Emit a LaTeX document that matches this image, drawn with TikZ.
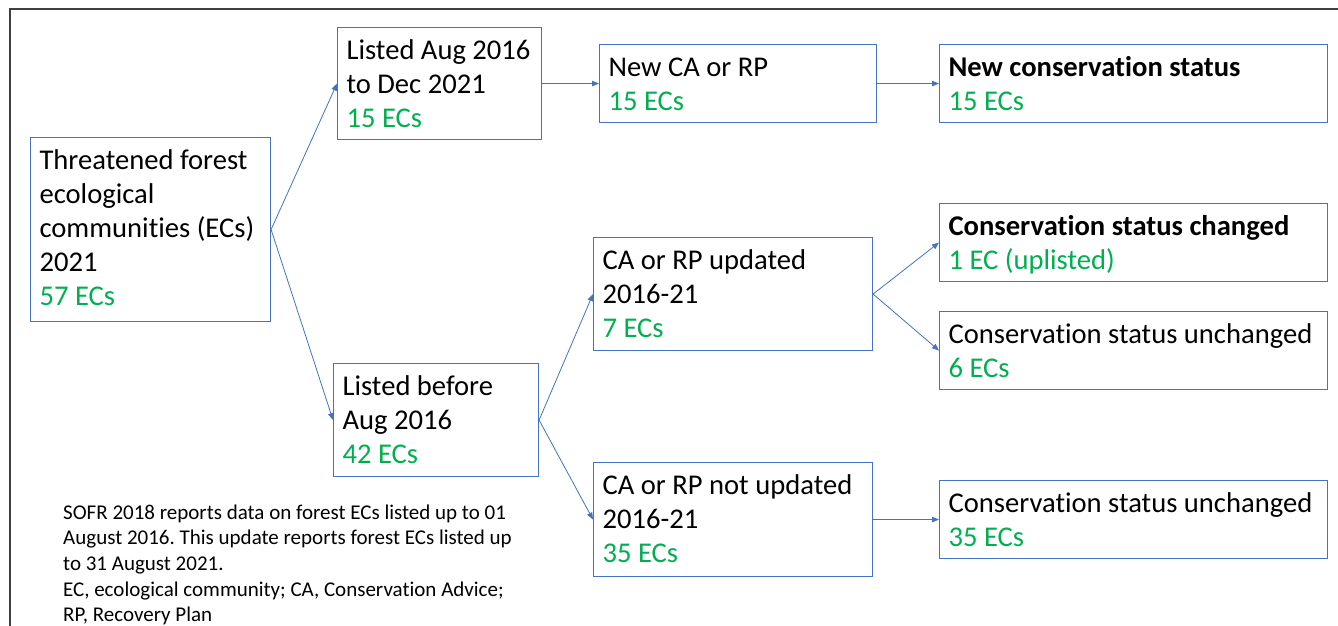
\documentclass[tikz,border=0pt]{standalone}
\usepackage{fontspec}
\setmainfont{Carlito}[Ligatures=NoCommon]
\usetikzlibrary{arrows.meta}
\definecolor{bordblue}{HTML}{4472C4}
\definecolor{ecgreen}{HTML}{00B050}
\definecolor{framec}{HTML}{404040}
\newcommand{\ecs}[1]{\textcolor{ecgreen}{#1}}
\frenchspacing
\tikzset{
  ecbox/.style={draw=bordblue, line width=1.1pt, rectangle, anchor=north west, inner xsep=9pt, inner ysep=0pt},
  conn/.style={draw=bordblue, line width=0.8pt, -{Triangle[length=7pt,width=5.5pt]}},
  notetext/.style={anchor=north west, inner sep=0pt}
}
\newcommand{\mkbox}[6]{%
  \node[ecbox, minimum width=#4pt, minimum height=#5pt] (#1) at (#2,#3)
    {\parbox[c][#5pt][t]{\dimexpr#4pt-18pt\relax}{\fontsize{28.6}{34}\selectfont\raggedright\rule{0pt}{32pt}#6}};}
\begin{document}
\begin{tikzpicture}[x=1pt,y=-1pt]
\useasboundingbox (0,0) rectangle (1338,626);
\fill[white] (0,0) rectangle (1338,626);
\draw[framec, line width=1.5pt] (10,626) -- (10,9) -- (1338,9);

\mkbox{A}{30}{137}{240}{184}{Threatened forest\\ecological\\communities (ECs)\\2021\\\ecs{57 ECs}}
\mkbox{B}{337}{27}{204}{112}{Listed Aug 2016\\to Dec 2021\\\ecs{15 ECs}}
\mkbox{C}{599}{44}{277}{78}{New CA or RP\\\ecs{15 ECs}}
\mkbox{D}{939}{44}{388}{78}{\textbf{New conservation status}\\\ecs{15 ECs}}
\mkbox{E}{333}{363}{205}{113}{Listed before\\Aug 2016\\\ecs{42 ECs}}
\mkbox{F}{593}{237}{279}{113}{CA or RP updated\\2016-21\\\ecs{7 ECs}}
\mkbox{G}{939}{203}{388}{78}{\textbf{Conservation status changed}\\\ecs{1 EC (uplisted)}}
\mkbox{H}{939}{311}{388}{78}{Conservation status unchanged\\\ecs{6 ECs}}
\mkbox{I}{593}{462}{279}{114}{CA or RP not updated\\2016-21\\\ecs{35 ECs}}
\mkbox{J}{939}{480}{388}{78}{Conservation status unchanged\\\ecs{35 ECs}}

\node[notetext] (note) at (63,501) {\parbox[t]{480pt}{\fontsize{21}{25.6}\selectfont\raggedright\rule{0pt}{18pt}SOFR 2018 reports data on forest ECs listed up to 01\\August 2016. This update reports forest ECs listed up\\to 31 August 2021.\\EC, ecological community; CA, Conservation Advice;\\RP, Recovery Plan}};

\draw[conn] (A.east) -- (B.west);
\draw[conn] (A.east) -- (E.west);
\draw[conn] (B.east) -- (C.west);
\draw[conn] (C.east) -- (D.west);
\draw[conn] (E.east) -- (F.west);
\draw[conn] (E.east) -- (I.west);
\draw[conn] (F.east) -- (G.west);
\draw[conn] (F.east) -- (H.west);
\draw[conn] (I.east) -- (J.west);
\end{tikzpicture}
\end{document}
